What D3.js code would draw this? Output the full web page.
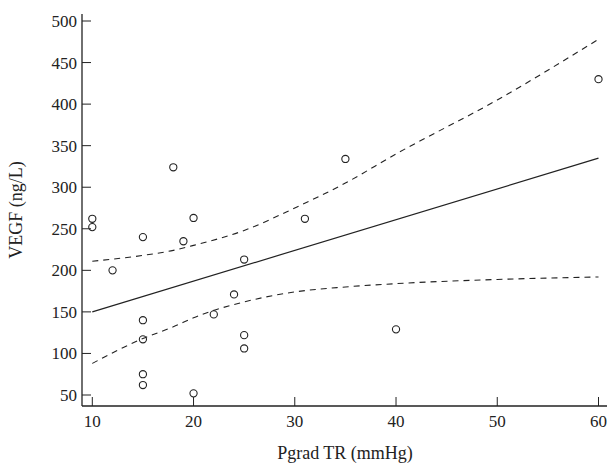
<!DOCTYPE html>
<html>
<head>
<meta charset="utf-8">
<script src="https://d3js.org/d3.v7.min.js"></script>
<style>body{margin:0;background:#fff}text{font-family:"Liberation Serif",serif;fill:#222}</style>
</head>
<body>
<svg id="c" width="610" height="466"></svg>
<script>
const px = [10,10,12,15,15,15,15,15,18,19,20,20,22,24,25,25,25,31,35,40,60];
const py = [262,252,200,240,140,117,75,62,324,235,263,52,147,171,213,122,106,262,334,129,430];
const fitX = [10,60], fitY = [150,335];
const ciX = [10,15,18,20,25,30,35,40,50,60];
const ciHi = [211,218,224,230,248,275,305,340,405,478];
const ciLo = [88,118,132,143,162,174,180,184,189,192];
const xTicks = [10,20,30,40,50,60];
const yTicks = [50,100,150,200,250,300,350,400,450,500];

const svg = d3.select("#c");
const x = d3.scaleLinear().domain([10,60]).range([92.3,598.5]);
const y = d3.scaleLinear().domain([50,500]).range([395,21]);
const x0 = 82, y0 = 406;

svg.append("line").attr("x1",x0).attr("x2",x0).attr("y1",14).attr("y2",y0).attr("stroke","#222").attr("stroke-width",1.3);
svg.append("line").attr("x1",x0).attr("x2",607).attr("y1",y0).attr("y2",y0).attr("stroke","#222").attr("stroke-width",1.3);

yTicks.forEach(t => {
  svg.append("line").attr("x1",x0).attr("x2",x0+9).attr("y1",y(t)).attr("y2",y(t)).attr("stroke","#222");
  svg.append("text").attr("x",x0-5).attr("y",y(t)+6).attr("text-anchor","end").attr("font-size",17).text(t);
});
xTicks.forEach(t => {
  svg.append("line").attr("x1",x(t)).attr("x2",x(t)).attr("y1",y0).attr("y2",y0-9).attr("stroke","#222");
  svg.append("text").attr("x",x(t)).attr("y",y0+21).attr("text-anchor","middle").attr("font-size",17).text(t);
});

const line = d3.line().x(d=>x(d[0])).y(d=>y(d[1])).curve(d3.curveMonotoneX);
svg.append("path").attr("d",line(fitX.map((v,i)=>[v,fitY[i]]))).attr("fill","none").attr("stroke","#222").attr("stroke-width",1.2);
[ciHi,ciLo].forEach(arr => {
  svg.append("path").attr("d",line(ciX.map((v,i)=>[v,arr[i]]))).attr("fill","none").attr("stroke","#222").attr("stroke-width",1.1).attr("stroke-dasharray","6,5");
});

svg.selectAll("circle").data(px).join("circle")
  .attr("cx",d=>x(d)).attr("cy",(d,i)=>y(py[i])).attr("r",3.6)
  .attr("fill","none").attr("stroke","#222").attr("stroke-width",1.1);

svg.append("text").attr("x",345).attr("y",459).attr("text-anchor","middle").attr("font-size",18).text("Pgrad TR (mmHg)");
svg.append("text").attr("transform","translate(22,210) rotate(-90)").attr("text-anchor","middle").attr("font-size",18).text("VEGF (ng/L)");
</script>
</body>
</html>
